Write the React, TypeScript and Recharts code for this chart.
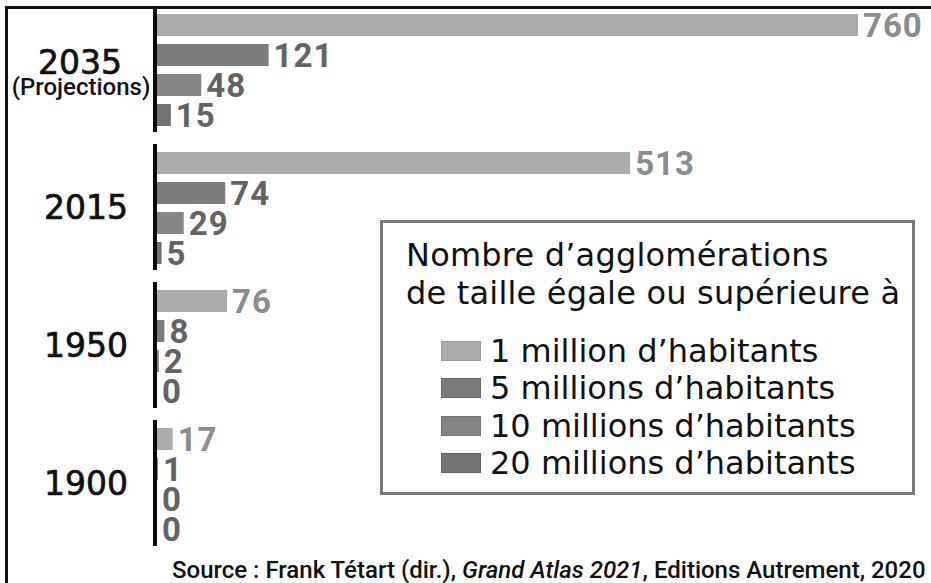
import { BarChart, Bar, XAxis, YAxis, LabelList, Legend } from "recharts";

const years = ["2035", "2015", "1950", "1900"];
const oneMillion = [760, 513, 76, 17];
const fiveMillions = [121, 74, 8, 1];
const tenMillions = [48, 29, 2, 0];
const twentyMillions = [15, 5, 0, 0];

const seriesNames = [
  "1 million d’habitants",
  "5 millions d’habitants",
  "10 millions d’habitants",
  "20 millions d’habitants",
];
const seriesKeys = ["m1", "m5", "m10", "m20"];
const seriesFill = ["#ababab", "#7c7c7c", "#858585", "#737373"];
const seriesStroke = ["#9c9c9c", "#6c6c6c", "#747474", "#626262"];
const labelFill = ["#8c8c8c", "#636363", "#636363", "#636363"];

const data = years.map((year, i) => ({
  year,
  m1: oneMillion[i],
  m5: fiveMillions[i],
  m10: tenMillions[i],
  m20: twentyMillions[i],
}));

const yearText = {
  fontFamily: "DejaVu Sans",
  fontSize: 33,
  fill: "#111",
  stroke: "#111",
  strokeWidth: 0.7,
};

const YearTick = ({ y, payload }: any) => {
  const isProjection = payload.value === "2035";
  return (
    <g>
      {/* broken axis: one black segment per group */}
      <rect x={153} y={y - 63} width={4} height={126} fill="#0a0a0a" />
      {isProjection ? (
        <>
          <text x={80} y={y + 5} textAnchor="middle" {...yearText}>
            {payload.value}
          </text>
          <text x={81} y={y + 26} textAnchor="middle" fontFamily="Roboto" fontWeight={500} fontSize={24} fill="#111">
            (Projections)
          </text>
        </>
      ) : (
        <text x={128} y={y + 12} textAnchor="end" {...yearText}>
          {payload.value}
        </text>
      )}
    </g>
  );
};

const makeValueLabel = (color: string) => (props: any) => {
  const vb = props.viewBox || props;
  const x = (vb.x ?? 0) + (vb.width ?? 0) + 5;
  const y = (vb.y ?? 0) + (vb.height ?? 0) / 2;
  return (
    <text
      x={x}
      y={y + 12}
      fill={color}
      fontFamily="Roboto"
      fontWeight={700}
      fontSize={33}
      letterSpacing={1}
    >
      {props.value}
    </text>
  );
};

// zero values still get a (hairline) bar so that their "0" label is drawn
const zeroSize = (value: any) => (value === 0 ? 0.01 : 0);

const LegendBox = () => (
  <div
    style={{
      width: 529,
      height: 269,
      border: "3px solid #7a7a7a",
      backgroundColor: "#fff",
      fontFamily: "DejaVu Sans",
      color: "#111",
      boxSizing: "content-box",
    }}
  >
    <div style={{ padding: "13px 0 0 23px", fontSize: 32, lineHeight: "38px", letterSpacing: 0.2 }}>
      Nombre d’agglomérations
      <br />
      de taille égale ou supérieure à
    </div>
    <div style={{ padding: "20px 0 0 58px" }}>
      {seriesNames.map((name, i) => (
        <div key={name} style={{ display: "flex", alignItems: "center", height: 37.5, fontSize: 32 }}>
          <span
            style={{
              display: "inline-block",
              width: 38,
              height: 18,
              backgroundColor: seriesFill[i],
              border: `1px solid ${seriesStroke[i]}`,
              marginRight: 9,
            }}
          />
          {name}
        </div>
      ))}
    </div>
  </div>
);

export default function App() {
  return (
    <div
      style={{
        position: "absolute",
        left: 0,
        top: 0,
        width: 931,
        height: 583,
        backgroundColor: "#fff",
        overflow: "hidden",
      }}
    >
      <div
        style={{
          position: "absolute",
          left: 5,
          top: 6,
          width: 940,
          height: 600,
          borderLeft: "3px solid #111",
          borderTop: "3px solid #111",
        }}
      />
      <BarChart
        width={931}
        height={583}
        data={data}
        layout="vertical"
        margin={{ top: 0, right: 73, bottom: 31, left: 0 }}
        barCategoryGap={14}
        barGap={8}
      >
        <XAxis type="number" domain={[0, 760]} hide />
        <YAxis
          type="category"
          dataKey="year"
          width={157}
          axisLine={false}
          tickLine={false}
          tick={<YearTick />}
        />
        <Legend
          layout="horizontal"
          verticalAlign="middle"
          align="center"
          content={<LegendBox />}
          wrapperStyle={{ left: 380, top: 220, width: "auto", height: "auto" }}
        />
        {seriesKeys.map((key, i) => (
          <Bar
            key={key}
            dataKey={key}
            name={seriesNames[i]}
            fill={seriesFill[i]}
            minPointSize={zeroSize}
            isAnimationActive={false}
          >
            <LabelList dataKey={key} content={makeValueLabel(labelFill[i])} />
          </Bar>
        ))}
      </BarChart>
      <div
        style={{
          position: "absolute",
          left: 172,
          top: 556,
          fontFamily: "Roboto",
          fontWeight: 500,
          fontSize: 24,
          color: "#111",
          whiteSpace: "nowrap",
        }}
      >
        Source : Frank Tétart (dir.), <i>Grand Atlas 2021</i>, Editions Autrement, 2020
      </div>
    </div>
  );
}
